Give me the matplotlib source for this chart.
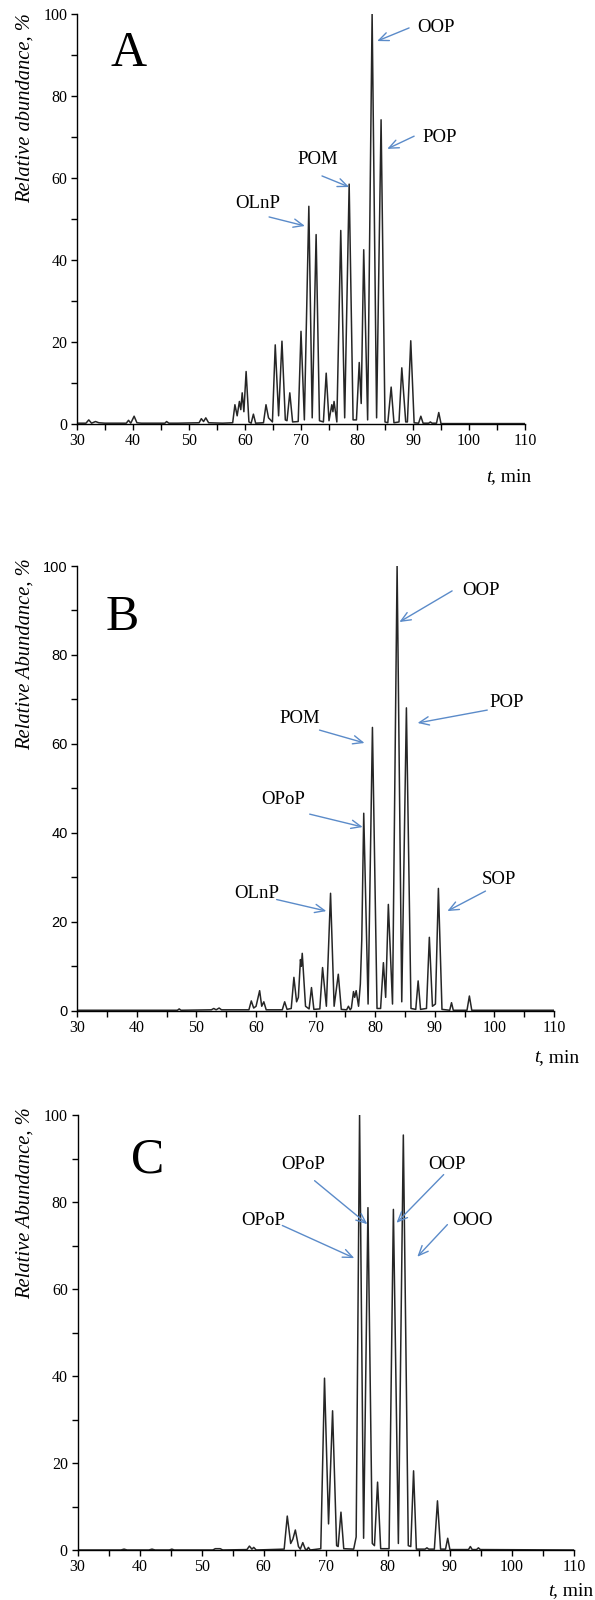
"""
Chromatograms A, B, C (relative abundance vs retention time) with labelled TAG peaks
"""

import matplotlib
matplotlib.use("Agg")
import matplotlib.pyplot as plt
from matplotlib.ticker import MultipleLocator

serif = "Liberation Serif"
sans = "Liberation Sans"
arrow_color = "#5b8bc9"
trace_color = "#262626"

# ---- trace A: retention time (min) and relative abundance (%)
t_A = [30, 31.6, 32.1, 32.6, 33.3, 33.9, 35, 38.8, 39.2, 39.6, 40.2, 40.7, 41.5,
       45.7, 46.0, 46.4, 48, 51.8, 52.2, 52.6, 53.0, 53.5, 56, 57.8,
       58.2, 58.6, 59.0, 59.25, 59.5, 59.8, 60.2, 60.7, 61.1, 61.5, 61.9,
       63.3, 63.75, 64.2, 64.9, 65.4, 66.0, 66.6, 67.2, 67.5, 68.0, 68.5,
       69.5, 70.0, 70.6, 71.4, 72.0, 72.7, 73.3, 74.0, 74.5, 75.0, 75.5, 75.7,
       75.9, 76.4, 77.1, 77.8, 78.6, 79.3, 79.9, 80.4, 80.75, 81.2, 81.9,
       82.7, 83.5, 84.3, 85.0, 85.5, 86.1, 86.6, 87.5, 88.0, 88.7, 89.0,
       89.6, 90.2, 91.0, 91.4, 91.8, 92.8, 93.1, 93.4, 94.2, 94.6, 95.0, 110]
y_A = [0.2, 0.2, 1.0, 0.2, 0.6, 0.3, 0.2, 0.2, 0.9, 0.2, 1.9, 0.3, 0.2,
       0.2, 0.6, 0.2, 0.2, 0.3, 1.3, 0.6, 1.5, 0.3, 0.2, 0.3,
       4.7, 2.0, 5.5, 3.5, 7.6, 3.0, 12.8, 0.5, 0.2, 2.4, 0.2,
       0.3, 4.7, 1.5, 0.5, 19.3, 2.0, 20.2, 1.0, 0.8, 7.6, 0.5,
       0.6, 22.6, 1.0, 53.1, 1.5, 46.2, 0.8, 0.5, 12.4, 0.8, 4.7, 3.0,
       5.5, 0.5, 47.2, 1.5, 58.5, 1.0, 1.0, 15.0, 5.0, 42.5, 1.0,
       100, 1.5, 74.2, 0.5, 0.3, 9.0, 0.3, 0.5, 13.7, 0.5, 0.5,
       20.3, 0.3, 0.2, 1.9, 0.2, 0.2, 0.5, 0.2, 0.2, 2.8, 0.1, 0.1]

# ---- trace B
t_B = [30, 46.8, 47.1, 47.4, 52.5, 52.9, 53.3, 53.8, 54.2, 58.8,
       59.2, 59.6, 60.0, 60.6, 60.95, 61.3, 61.7, 64.4, 64.8, 65.2,
       65.9, 66.35, 66.8, 67.1, 67.45, 67.6, 67.75, 68.3, 68.9, 69.3, 69.7,
       70.7, 71.16, 71.8, 72.5, 73.1, 73.8, 74.3, 75.2, 75.5, 75.8,
       76.0, 76.35, 76.55, 76.8, 77.2, 77.5, 77.74, 78.07, 78.8, 79.53, 80.3,
       80.9, 81.37, 81.75, 82.2, 82.9, 83.67, 84.45, 85.23, 86.0,
       86.8, 87.2, 87.6, 88.6, 89.08, 89.6, 90.1, 90.6, 91.2,
       92.5, 92.8, 93.1, 95.4, 95.8, 96.2, 110]
y_B = [0.1, 0.1, 0.4, 0.1, 0.2, 0.5, 0.2, 0.6, 0.2, 0.2,
       2.2, 0.6, 1.0, 4.5, 1.0, 2.0, 0.2, 0.2, 2.0, 0.3,
       0.5, 7.5, 2.0, 3.0, 11.5, 10.0, 12.9, 1.0, 0.4, 5.2, 0.3,
       0.4, 9.7, 1.0, 26.4, 1.0, 8.2, 0.3, 0.2, 1.0, 0.2,
       0.6, 4.3, 3.0, 4.5, 1.0, 6.0, 15.9, 44.4, 1.5, 63.7, 0.5,
       0.5, 10.8, 3.0, 23.9, 1.5, 100, 2.0, 68.1, 0.5,
       0.3, 6.7, 0.3, 0.5, 16.5, 1.0, 1.5, 27.5, 0.3,
       0.1, 1.8, 0.1, 0.1, 3.3, 0.1, 0.1]

# ---- trace C
t_C = [30, 37, 37.5, 38, 41.5, 42, 42.5, 44.8, 45.2, 45.6, 51.8, 52.2, 53.0,
       53.4, 57.3, 57.7, 58.1, 58.4, 58.8, 63.3, 63.8, 64.35, 64.7, 65.1,
       65.6, 65.9, 66.3, 66.7, 67.0, 67.2, 67.5, 69.2, 69.8, 70.45, 71.1,
       71.75, 72.0, 72.45, 72.9, 74.5, 74.9, 75.45, 76.1, 76.8, 77.5, 77.85,
       78.35, 78.85, 80.2, 80.9, 81.7, 82.5, 83.3, 83.7, 84.15, 84.6, 86.0,
       86.3, 86.6, 87.5, 88.0, 88.5, 89.3, 89.65, 90.0, 93.0, 93.3, 93.6,
       94.3, 94.6, 94.9, 110]
y_C = [0, 0, 0.2, 0, 0, 0.2, 0, 0, 0.2, 0, 0, 0.3, 0.3,
       0, 0.1, 0.9, 0.2, 0.6, 0, 0.2, 7.8, 1.5, 2.5, 4.6,
       0.8, 0.2, 1.7, 0.2, 0.1, 0.6, 0, 0.3, 39.5, 6.0, 32.0,
       1.0, 0.8, 8.7, 0.3, 0.2, 3.0, 100, 2.7, 78.7, 1.5, 1.0,
       15.6, 0.3, 0.3, 78.3, 1.5, 95.4, 1.0, 0.8, 18.2, 0.2, 0.2,
       0.5, 0.2, 0.2, 11.3, 0.2, 0.2, 2.7, 0.1, 0.1, 0.8, 0.1,
       0.1, 0.5, 0.1, 0]

# ---- peak labels: name, text position (t, %), arrow tail (t, %), arrow tip (t, %)
labels_A = [("OOP", (94.1, 96.6), (89.3, 96.6), (83.6, 93.4)),
            ("POP", (94.8, 70.0), (90.2, 70.2), (85.4, 67.1)),
            ("POM", (73.0, 64.4), (73.75, 60.5), (78.6, 57.8)),
            ("OLnP", (62.3, 53.9), (64.3, 50.5), (70.7, 48.3))]
labels_B = [("OOP", (97.8, 94.4), (92.9, 94.4), (84.05, 87.4)),
            ("POP", (102.0, 69.2), (98.8, 67.6), (87.1, 64.7)),
            ("POM", (67.3, 65.8), (70.65, 63.1), (78.2, 60.2)),
            ("OPoP", (64.5, 47.4), (69.0, 44.2), (77.9, 41.3)),
            ("OLnP", (60.1, 26.3), (63.45, 25.0), (71.8, 22.4)),
            ("SOP", (100.8, 29.6), (98.5, 26.9), (92.1, 22.4))]
labels_C = [("OPoP", (66.4, 88.6), (68.2, 84.9), (76.7, 74.9)),
            ("OPoP", (59.9, 75.8), (63.0, 74.6), (74.6, 67.1)),
            ("OOP", (89.6, 88.6), (89.0, 86.3), (81.4, 75.2)),
            ("OOO", (93.6, 75.8), (89.6, 74.8), (84.75, 67.4))]

fig = plt.figure(figsize=(5.95, 16), dpi=100)

W, H = 595.0, 1600.0
# axes boxes in pixels: left, right, top (y=100), bottom (y=0)
boxes = [(77.0, 525.0, 14.0, 424.0),
         (77.3, 554.0, 566.0, 1010.7),
         (77.5, 574.0, 1115.0, 1550.0)]

panels = [("A", t_A, y_A, labels_A, "Relative abundance, %", (35.9, 87.3), serif, (531, 477), 1),
          ("B", t_B, y_B, labels_B, "Relative Abundance, %", (34.8, 85.6), sans, (579, 1058), 8),
          ("C", t_C, y_C, labels_C, "Relative Abundance, %", (38.6, 86.7), serif, (593, 1591), 8)]

for (letter, t, y, labels, ylab, letter_pos, yfont, tmin_pos, lab_off), (l, r, top, bot) in zip(panels, boxes):
    ax = fig.add_axes([l / W, (H - bot) / H, (r - l) / W, (bot - top) / H])
    ax.plot(t, y, color=trace_color, lw=1.1)
    ax.set_xlim(30, 110)
    ax.set_ylim(0, 100)
    for s in ["top", "right"]:
        ax.spines[s].set_visible(False)
    for s in ["left", "bottom"]:
        ax.spines[s].set_linewidth(1.0)
    ax.xaxis.set_major_locator(MultipleLocator(10))
    ax.xaxis.set_minor_locator(MultipleLocator(5))
    ax.yaxis.set_major_locator(MultipleLocator(20))
    ax.yaxis.set_minor_locator(MultipleLocator(10))
    ax.tick_params(which="both", direction="out", length=4, width=1.0)
    ax.tick_params(axis="x", pad=2.5)
    ax.tick_params(axis="y", pad=3)
    for lab in ax.get_xticklabels():
        lab.set_fontfamily(serif)
        lab.set_fontsize(11.5)
    for lab in ax.get_yticklabels():
        lab.set_fontfamily(yfont)
        lab.set_fontsize(11.5 if yfont == serif else 10.5)

    # rotated y label, aligned with the top of the axis
    ax.text((25 - l) / (r - l), 1.0 + lab_off / (bot - top), ylab, transform=ax.transAxes,
            rotation=90, ha="center", va="top", fontsize=14.8,
            fontfamily=serif, style="italic")

    # "t, min"
    ax.text((tmin_pos[0] - l) / (r - l), (bot - tmin_pos[1]) / (bot - top), ", min",
            transform=ax.transAxes, ha="right", va="center", fontsize=14,
            fontfamily=serif)
    ax.text((tmin_pos[0] - l - 39) / (r - l), (bot - tmin_pos[1]) / (bot - top), "t",
            transform=ax.transAxes, ha="right", va="center", fontsize=14,
            fontfamily=serif, style="italic")

    # panel letter
    ax.text(letter_pos[0], letter_pos[1], letter, ha="left", va="baseline",
            fontsize=36, fontfamily=serif)

    for name, txt, tail, tip in labels:
        ax.text(txt[0], txt[1], name, ha="center", va="center", fontsize=13.5,
                fontfamily=serif)
        ax.annotate("", xy=tip, xytext=tail,
                    arrowprops=dict(arrowstyle="->,head_length=0.7,head_width=0.3",
                                    color=arrow_color, lw=1.0, shrinkA=0, shrinkB=0,
                                    mutation_scale=10))

fig.savefig("out.png", dpi=100)
